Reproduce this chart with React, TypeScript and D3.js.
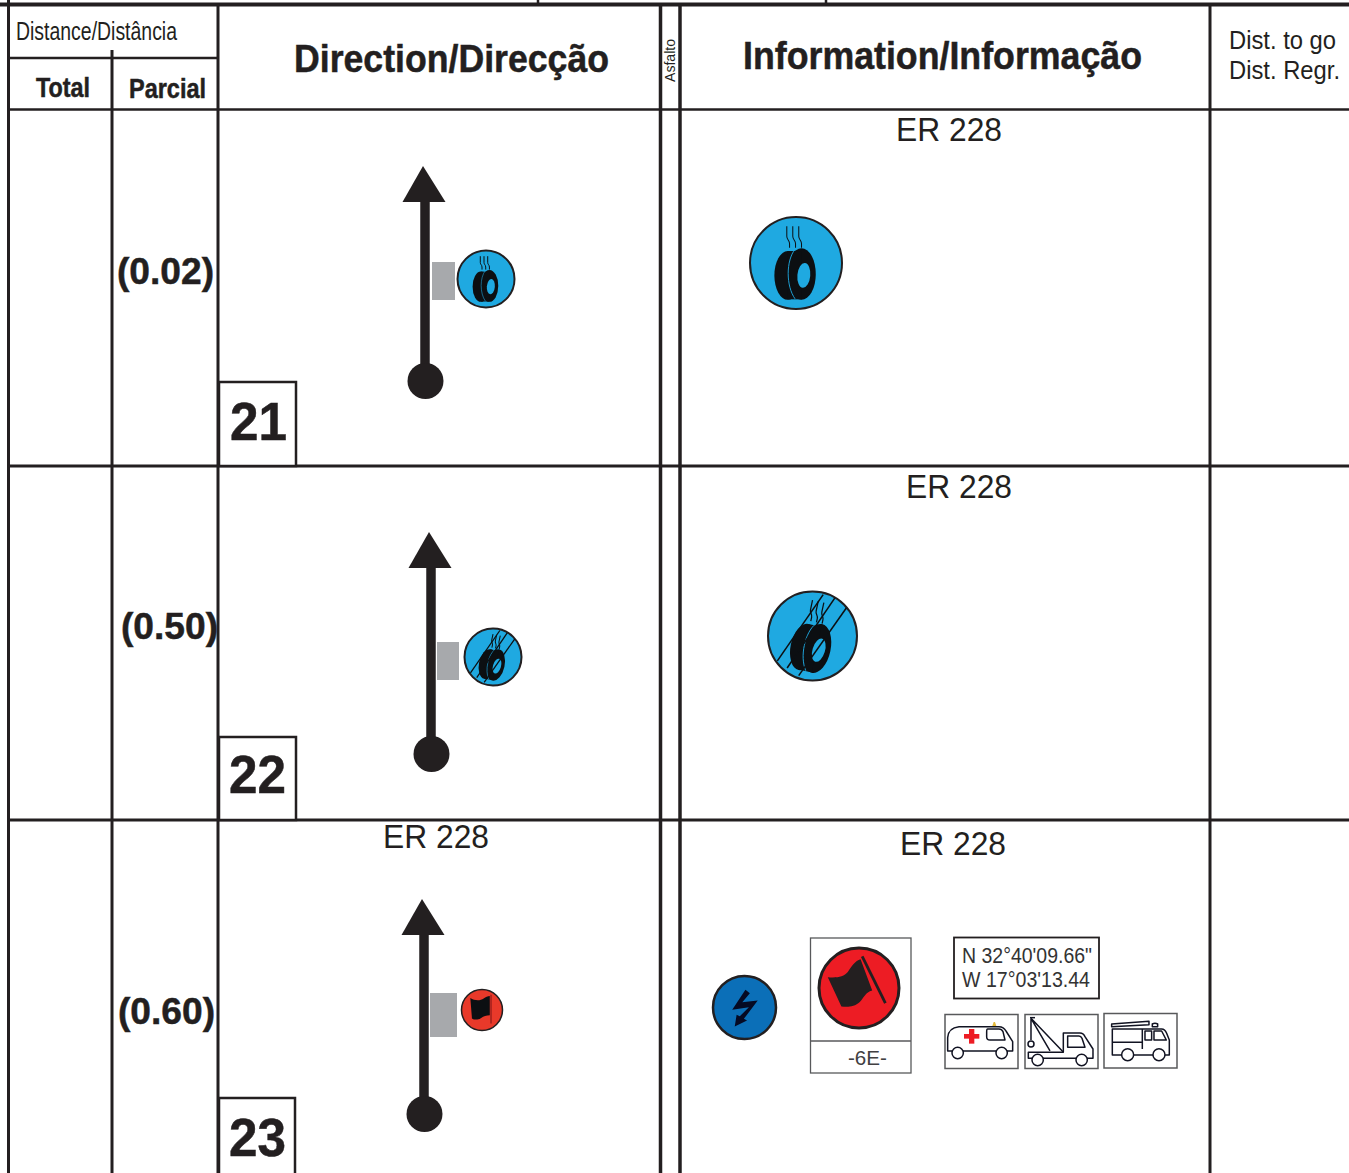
import * as d3 from 'd3';

// values
const stepNumbers = ['21', '22', '23'];
const partialLabels = ['(0.02)', '(0.50)', '(0.60)'];
const roadLabel = 'ER 228';
const coordinateLines = ['N 32°40\'09.66"', 'W 17°03\'13.44'];
const signCode = '-6E-';

const width = 1349;
const height = 1173;
const ink = '#231f20';
const tyreBlue = '#1fa9e1';
const NARROW = "'Liberation Sans Narrow', 'Liberation Sans', Arial, sans-serif";
const SANS = "'Liberation Sans', Arial, sans-serif";

// layout of the three rows, indexed by step number
const byStep = (vals: number[]) => d3.scaleOrdinal<string, number>().domain(stepNumbers).range(vals);
const rowBottom = byStep([466, 820, 1180]);
const boxTop = byStep([382, 737, 1098]);
const boxRight = byStep([296, 296, 295]);
const numberX = byStep([230, 229, 229]);
const numberY = byStep([440, 793, 1156]);
const partialX = byStep([117, 121, 118]);
const partialY = byStep([284, 639, 1024]);
const shaftX = byStep([425, 431, 424]);
const tipY = byStep([166, 532, 899]);
const dotY = byStep([381, 754, 1114]);
const patchX = byStep([432, 437, 430]);
const patchW = byStep([23, 22, 27]);
const patchY = byStep([262, 642, 993]);
const patchH = byStep([38, 38, 44]);

const line = d3.line();

function Label({ x, y, size, w, weight, family = NARROW, children, fill = ink }: any) {
  return (
    <text x={x} y={y} fontSize={size} fontWeight={weight} fontFamily={family} fill={fill}
      stroke={weight === 'bold' ? fill : 'none'} strokeWidth={weight === 'bold' ? 0.5 : 0}
      textLength={w} lengthAdjust="spacingAndGlyphs">
      {children}
    </text>
  );
}

function Disc({ cx, cy, r, fill, sw = 2, children }: any) {
  return (
    <g transform={`translate(${cx},${cy}) scale(${r / 100})`}>
      <circle r={100} fill={fill} stroke={ink} strokeWidth={(sw * 100) / r} />
      {children}
    </g>
  );
}

function Tyre({ steam = 2.2 }: any) {
  return (
    <g>
      <ellipse cx={-18} cy={27} rx={29} ry={53} fill="#0c0f12" />
      <ellipse cx={12} cy={24} rx={31} ry={56} fill="#0c0f12" />
      <rect x={-18} y={-26} width={30} height={105} fill="#0c0f12" />
      <path d="M-2,-30 C-22,-5 -22,50 -2,78" fill="none" stroke={tyreBlue} strokeWidth={2} />
      <ellipse cx={17} cy={27} rx={14} ry={27} fill={tyreBlue} transform="rotate(5 17 27)" />
      {[-20, -7, 6].map((sx) => (
        <path key={sx}
          d={`M${sx},-80 V-58 C${sx},-50 ${sx + 6},-50 ${sx + 6},-42 V-33`}
          fill="none" stroke="#0c0f12" strokeWidth={steam} />
      ))}
    </g>
  );
}

const slashes: [number, number][][] = [
  [[-79, 56], [24, -93]],
  [[-57, 72], [50, -85]],
  [[-31, 89], [76, -63]],
];

function SlashedTyre({ slash = 3.5 }: any) {
  return (
    <g>
      <g transform="translate(3,2) rotate(12)"><Tyre steam={slash * 0.8} /></g>
      {slashes.map((s, i) => (
        <path key={i} d={line(s) as string} stroke="#0c0f12" strokeWidth={slash} fill="none" />
      ))}
    </g>
  );
}

function BigFlag() {
  return (
    <g>
      <path d="M-78,-27 C-55,-25 -38,-28 -28,-40 C-18,-55 -10,-68 4,-72 L33,6 C16,10 12,25 2,35 C-12,48 -30,48 -44,46 Z" fill={ink} />
      <path d="M8,-79 L66,38" stroke={ink} strokeWidth={7} />
    </g>
  );
}

function SmallFlag() {
  return (
    <g>
      <path d="M-57,-58 C-35,-44 -8,-44 8,-56 C18,-64 28,-67 38,-68 V25 C20,25 8,30 -6,40 C-22,50 -38,48 -49,41 Z" fill="#0c0f12" />
      <path d="M44,-74 V66" stroke="#8f1a1a" strokeWidth={6} />
    </g>
  );
}

const boltPoints: [number, number][] = [
  [3, -56], [17, -45], [-7, -17], [42, -22], [-2, 36], [8, 41], [-31, 60], [-25, 23], [-15, 28], [14, -1], [-39, 7],
];

function VehicleBox({ x, y, w, h }: any) {
  return <rect x={x} y={y} width={w} height={h} fill="#fff" stroke="#58595b" strokeWidth={1.5} />;
}

// rescue vehicles are traced at 3x around (935,925)
function Vehicles() {
  const st = { fill: 'none', stroke: '#111322', strokeWidth: 4.5, strokeLinejoin: 'round' as const };
  const wheel = (cx: number, cy: number, r = 17) => (
    <circle cx={cx} cy={cy} r={r} fill="#fff" stroke="#111322" strokeWidth={4.5} />
  );
  return (
    <g transform="translate(935,925) scale(0.3333)">
      {/* ambulance */}
      <path d="M38,378 V338 Q40,308 72,305 H192 Q206,305 213,318 L233,350 V378 Z" {...st} fill="#fff" />
      <path d="M158,312 H192 Q200,312 204,320 L210,345 H165 Q155,345 155,335 V320 Q155,312 158,312 Z" {...st} />
      <path d="M172,303 L176,291 H180 L184,303 Z" fill="#e3b93b" />
      <path d="M87,334 H133" stroke="#ed1c24" strokeWidth={14} />
      <path d="M110,312 V356" stroke="#ed1c24" strokeWidth={16} />
      {wheel(68, 384)}
      {wheel(200, 384)}
      {/* tow truck */}
      <path d="M280,400 V382 H385 V324 H435 Q445,324 450,335 L474,372 V400 Z" {...st} fill="#fff" />
      <path d="M398,333 H432 Q438,333 441,340 L450,367 H398 Z" {...st} />
      <path d="M288,280 L345,378 M288,280 L384,380 M288,280 V345" {...st} />
      <circle cx={288} cy={357} r={9} {...st} />
      <path d="M285,278 H300" {...st} />
      {wheel(308, 405)}
      {wheel(440, 405)}
      {/* fire truck */}
      <path d="M532,390 V312 H680 Q690,312 695,325 L703,345 V390 Z" {...st} fill="#fff" />
      <path d="M530,297 L642,289 V299 L530,305 Z" {...st} />
      <path d="M532,352 H622 V312 M622,352 V372" {...st} />
      <path d="M630,318 H650 V345 H630 Z M657,318 H680 L694,345 H657 Z" {...st} />
      <path d="M652,305 V297 Q660,292 668,297 V305 Z" {...st} />
      {wheel(578, 389, 18)}
      {wheel(672, 389, 18)}
    </g>
  );
}

export default function App() {
  return (
    <svg width={width} height={height} viewBox={`0 0 ${width} ${height}`}
      style={{ position: 'absolute', left: 0, top: 0, background: '#fff' }}>
      {/* grid */}
      <g stroke={ink} fill="none">
        <path d="M0,4.5 H1349" strokeWidth={4} />
        <path d="M538,0 V4 M826,0 V4" strokeWidth={2.5} />
        <path d="M8.5,0 V1173" strokeWidth={3} />
        <path d="M112,50 V1173" strokeWidth={3} />
        <path d="M218,5 V1173" strokeWidth={3} />
        <path d="M660.5,5 V1173" strokeWidth={3.5} />
        <path d="M680,5 V1173" strokeWidth={3.5} />
        <path d="M1210,5 V1173" strokeWidth={3} />
        <path d="M8,58 H218" strokeWidth={2.5} />
        <path d="M8,109.5 H1349" strokeWidth={2.5} />
        {stepNumbers.slice(0, 2).map((s) => (
          <path key={s} d={`M8,${rowBottom(s)} H1349`} strokeWidth={3} />
        ))}
      </g>

      {/* header */}
      <Label x={16} y={40} size={25} w={161}>Distance/Distância</Label>
      <Label x={36} y={97} size={27} w={54} weight="bold">Total</Label>
      <Label x={129} y={98} size={27} w={77} weight="bold">Parcial</Label>
      <Label x={294} y={72} size={39} w={315} weight="bold">Direction/Direcção</Label>
      <Label x={743} y={69} size={39} w={399} weight="bold">Information/Informação</Label>
      <Label x={1229} y={49} size={26} w={107}>Dist. to go</Label>
      <Label x={1229} y={79} size={26} w={111}>Dist. Regr.</Label>
      <text transform="translate(675,82) rotate(-90)" fontSize={15.5} fontFamily={SANS} fill={ink}
        textLength={43} lengthAdjust="spacingAndGlyphs">Asfalto</text>

      {/* rows */}
      {stepNumbers.map((s, i) => {
        const x = shaftX(s);
        const tip = tipY(s);
        const head: [number, number][] = [[x - 2, tip], [x + 20.5, tip + 36], [x - 22.5, tip + 36]];
        return (
          <g key={s}>
            <Label x={partialX(s)} y={partialY(s)} size={37} w={97} weight="bold" family={SANS}>{partialLabels[i]}</Label>
            <path d={`M${x},${tip + 30} V${dotY(s)}`} stroke={ink} strokeWidth={9.5} />
            <path d={(line(head) as string) + 'Z'} fill={ink} />
            <circle cx={x + 0.5} cy={dotY(s)} r={18} fill={ink} />
            <rect x={patchX(s)} y={patchY(s)} width={patchW(s)} height={patchH(s)} fill="#a7a9ac" />
            <rect x={219} y={boxTop(s)} width={boxRight(s) - 219} height={rowBottom(s) - boxTop(s)}
              fill="#fff" stroke={ink} strokeWidth={2.5} />
            <Label x={numberX(s)} y={numberY(s)} size={54} w={57} weight="bold" family={SANS}>{s}</Label>
          </g>
        );
      })}

      {/* road labels */}
      <Label x={896} y={141} size={32.5} w={106} family={SANS}>{roadLabel}</Label>
      <Label x={906} y={498} size={32.5} w={106} family={SANS}>{roadLabel}</Label>
      <Label x={383} y={848} size={32.5} w={106} family={SANS}>{roadLabel}</Label>
      <Label x={900} y={855} size={32.5} w={106} family={SANS}>{roadLabel}</Label>

      {/* step 21 icons */}
      <Disc cx={486} cy={279} r={28.5} fill={tyreBlue}><Tyre steam={3.5} /></Disc>
      <Disc cx={796} cy={263} r={46} fill={tyreBlue}><Tyre /></Disc>

      {/* step 22 icons */}
      <Disc cx={493} cy={657} r={28.5} fill={tyreBlue}><SlashedTyre slash={4.5} /></Disc>
      <Disc cx={812.5} cy={636} r={44.5} fill={tyreBlue}><SlashedTyre /></Disc>

      {/* step 23 icons */}
      <Disc cx={482} cy={1010} r={20.5} fill="#e8392a" sw={1.5}><SmallFlag /></Disc>
      <Disc cx={744.5} cy={1007.5} r={31.5} fill="#0b6fb8" sw={2.5}>
        <path d={(line(boltPoints) as string) + 'Z'} fill="#050a24" />
      </Disc>
      <rect x={810.5} y={938} width={100.5} height={135} fill="#fff" stroke="#58595b" strokeWidth={1.3} />
      <path d="M810,1041 H911" stroke="#58595b" strokeWidth={1.3} />
      <Disc cx={859} cy={988} r={40} fill="#ed1c24" sw={3}><BigFlag /></Disc>
      <Label x={848} y={1065} size={21} w={39} family={SANS} fill="#414042">{signCode}</Label>

      <rect x={954} y={937.5} width={145} height={61} fill="#fff" stroke={ink} strokeWidth={1.8} />
      <Label x={962} y={963} size={22} w={130} fill="#333">{coordinateLines[0]}</Label>
      <Label x={962} y={987} size={22} w={128} fill="#333">{coordinateLines[1]}</Label>

      <VehicleBox x={945} y={1014.5} w={73} h={54} />
      <VehicleBox x={1025} y={1014.5} w={73} h={54} />
      <VehicleBox x={1104} y={1013.5} w={73} h={54.5} />
      <Vehicles />
    </svg>
  );
}
